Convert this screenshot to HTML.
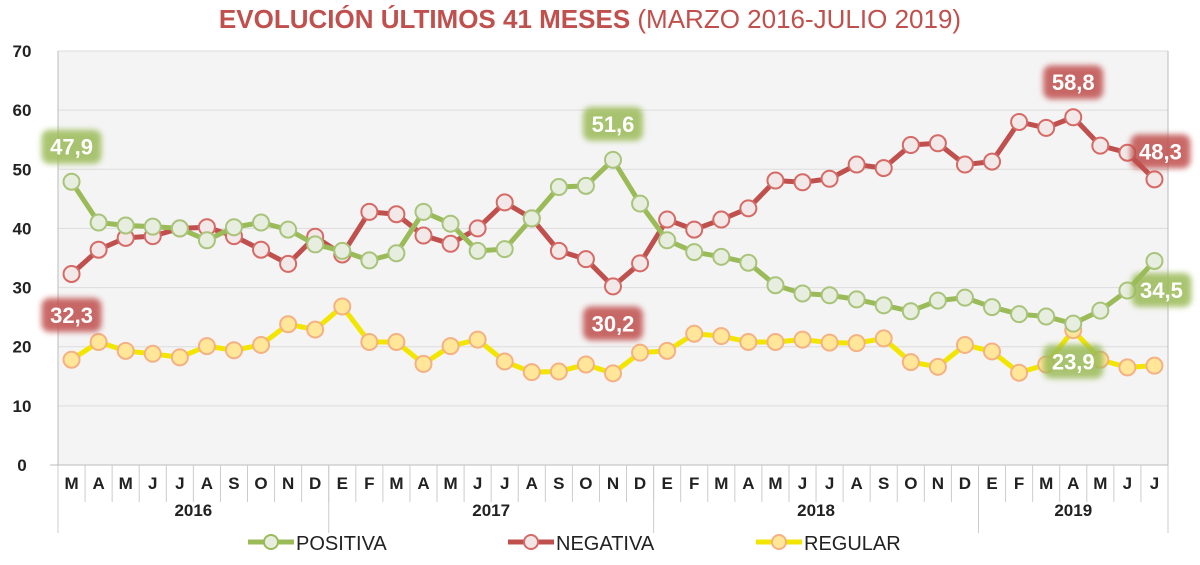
<!DOCTYPE html>
<html><head><meta charset="utf-8"><style>
body{margin:0;background:#fff;width:1200px;height:560px;overflow:hidden;font-family:"Liberation Sans",sans-serif}
</style></head><body>
<svg width="1200" height="560" xmlns="http://www.w3.org/2000/svg">
<defs>
<filter id="glow" x="-30%" y="-40%" width="160%" height="180%"><feGaussianBlur stdDeviation="3"/></filter>
</defs>
<text x="590" y="28" text-anchor="middle" font-size="26"><tspan font-weight="bold" fill="#c0504d">EVOLUCIÓN ÚLTIMOS 41 MESES</tspan><tspan fill="#c0504d"> (MARZO 2016-JULIO 2019)</tspan></text>
<rect x="58" y="51" width="1110" height="414" fill="#f4f4f4"/>
<g id="grid"></g><g id="axes"></g><g id="series"></g><g id="labels"></g>
<g font-size="20" fill="#222">
<g><line x1="248" y1="542" x2="294" y2="542" stroke="#9bbb59" stroke-width="5"/><circle cx="271" cy="542" r="7" fill="#e8eedf" stroke="#9bbb59" stroke-width="2"/><text x="296" y="550">POSITIVA</text></g>
<g><line x1="508" y1="542" x2="554" y2="542" stroke="#c0504d" stroke-width="5"/><circle cx="531" cy="542" r="7" fill="#f2e6e6" stroke="#d56a66" stroke-width="2"/><text x="556" y="550">NEGATIVA</text></g>
<g><line x1="756" y1="542" x2="802" y2="542" stroke="#f2e600" stroke-width="5"/><circle cx="779" cy="542" r="7" fill="#ffe699" stroke="#f4b183" stroke-width="2"/><text x="804" y="550">REGULAR</text></g>
</g>
</svg>
<script>
const months=["M","A","M","J","J","A","S","O","N","D","E","F","M","A","M","J","J","A","S","O","N","D","E","F","M","A","M","J","J","A","S","O","N","D","E","F","M","A","M","J","J"];
const years=["2016","2017","2018","2019"];
const yearCounts=[10,12,12,7];
const yTicks=[0,10,20,30,40,50,60,70];
const positiva=[47.9,41,40.5,40.3,40,38,40.2,41,39.8,37.3,36.2,34.6,35.8,42.8,40.8,36.2,36.5,41.7,47,47.2,51.6,44.2,38,36,35.2,34.2,30.4,29,28.7,28,27,26,27.8,28.3,26.7,25.5,25.1,23.9,26.1,29.5,34.5];
const negativa=[32.3,36.4,38.4,38.7,40,40.2,38.7,36.4,34,38.6,35.6,42.8,42.4,38.8,37.4,40,44.4,41.7,36.2,34.8,30.2,34.1,41.5,39.8,41.5,43.4,48.1,47.8,48.4,50.8,50.2,54.1,54.4,50.8,51.3,58,57,58.8,54,52.8,48.3];
const regular=[17.8,20.8,19.3,18.8,18.2,20.1,19.4,20.3,23.8,22.9,26.8,20.8,20.8,17.1,20.1,21.2,17.5,15.7,15.8,17,15.5,19,19.3,22.2,21.8,20.8,20.8,21.2,20.7,20.6,21.4,17.4,16.6,20.3,19.2,15.6,17,22.8,17.8,16.5,16.8];
const callouts=[["positiva",0,"47,9",0,-35],["negativa",0,"32,3",0,41],["positiva",20,"51,6",0,-36],["negativa",20,"30,2",0,37],["negativa",37,"58,8",0,-35],["negativa",40,"48,3",6,-28],["positiva",40,"34,5",7,29],["positiva",37,"23,9",0,38]];
const NS="http://www.w3.org/2000/svg";
const L=58,W=1110,T=51,B=465,step=W/months.length;
const X=i=>L+step*(i+0.5), Y=v=>B-(B-T)*v/70;
function mk(t,a,p){const e=document.createElementNS(NS,t);for(const k in a)e.setAttribute(k,a[k]);p.appendChild(e);return e;}
const grid=document.getElementById('grid'),axes=document.getElementById('axes');
yTicks.forEach(v=>{
 if(v>0){const g=mk('line',{x1:L,x2:L+W,y1:Y(v),y2:Y(v),stroke:'#dcdcdc','stroke-width':1},grid);
 
 }
 const t=mk('text',{x:22,y:Y(v)+6,'text-anchor':'middle','font-size':17,'font-weight':'bold',fill:'#222'},axes);t.textContent=v;
 
 
});
mk('line',{x1:L,x2:L,y1:T,y2:B,stroke:'#bbb'},axes);
mk('line',{x1:L+W,x2:L+W,y1:T,y2:B,stroke:'#bbb'},axes);
mk('line',{x1:L-8,x2:L+W,y1:B,y2:B,stroke:'#bbb'},axes);
months.forEach((m,i)=>{
 const t=mk('text',{x:X(i),y:489,'text-anchor':'middle','font-size':17,'font-weight':'bold',fill:'#222'},axes);t.textContent=m;
 
 
 mk('line',{x1:L+step*i,x2:L+step*i,y1:B,y2:502,stroke:'#ccc'},axes);
});
let acc=0;
years.forEach((y,k)=>{
 const x0=L+step*acc;acc+=yearCounts[k];const x1=L+step*acc;
 mk('line',{x1:x0,x2:x0,y1:B,y2:533,stroke:'#ccc'},axes);
 if(k==years.length-1)mk('line',{x1:x1,x2:x1,y1:B,y2:533,stroke:'#ccc'},axes);
 const t=mk('text',{x:(x0+x1)/2,y:516,'text-anchor':'middle','font-size':17,'font-weight':'bold',fill:'#222'},axes);t.textContent=y;
 
 
});
const ser=document.getElementById('series');
const defs={positiva:[positiva,'#9bbb59','#e8eedf','#a9c47a'],negativa:[negativa,'#c0504d','#f1e8e7','#d56a66'],regular:[regular,'#f2e600','#ffe699','#f4b183']};
['regular','negativa','positiva'].forEach(k=>{
 const [d,lc,fc,sc]=defs[k];
 const g=mk('g',{},ser);
 
 
 const p=mk('polyline',{points:d.map((v,i)=>X(i)+','+Y(v)).join(' '),fill:'none',stroke:lc,'stroke-width':5,'stroke-linejoin':'round'},g);
 
 
 d.forEach((v,i)=>{const c=mk('circle',{cx:X(i),cy:Y(v),r:8,fill:fc,stroke:sc,'stroke-width':2},g);
 
 });
});
const lab=document.getElementById('labels');
const data={positiva,negativa,regular};
callouts.forEach(([k,i,txt,dx,dy])=>{
 const cx=X(i)+dx,cy=Y(data[k][i])+dy;
 const col=k=='positiva'?'#9bbb59':'#c0504d';
 const g=mk('g',{},lab);
 
 
 mk('rect',{x:cx-30,y:cy-17,width:60,height:34,rx:8,fill:col,opacity:0.85,filter:'url(#glow)'},g);
 const t=mk('text',{x:cx,y:cy+8,'text-anchor':'middle','font-size':22,'font-weight':'bold',fill:'#fff'},g);t.textContent=txt;
});
</script>
</body></html>
